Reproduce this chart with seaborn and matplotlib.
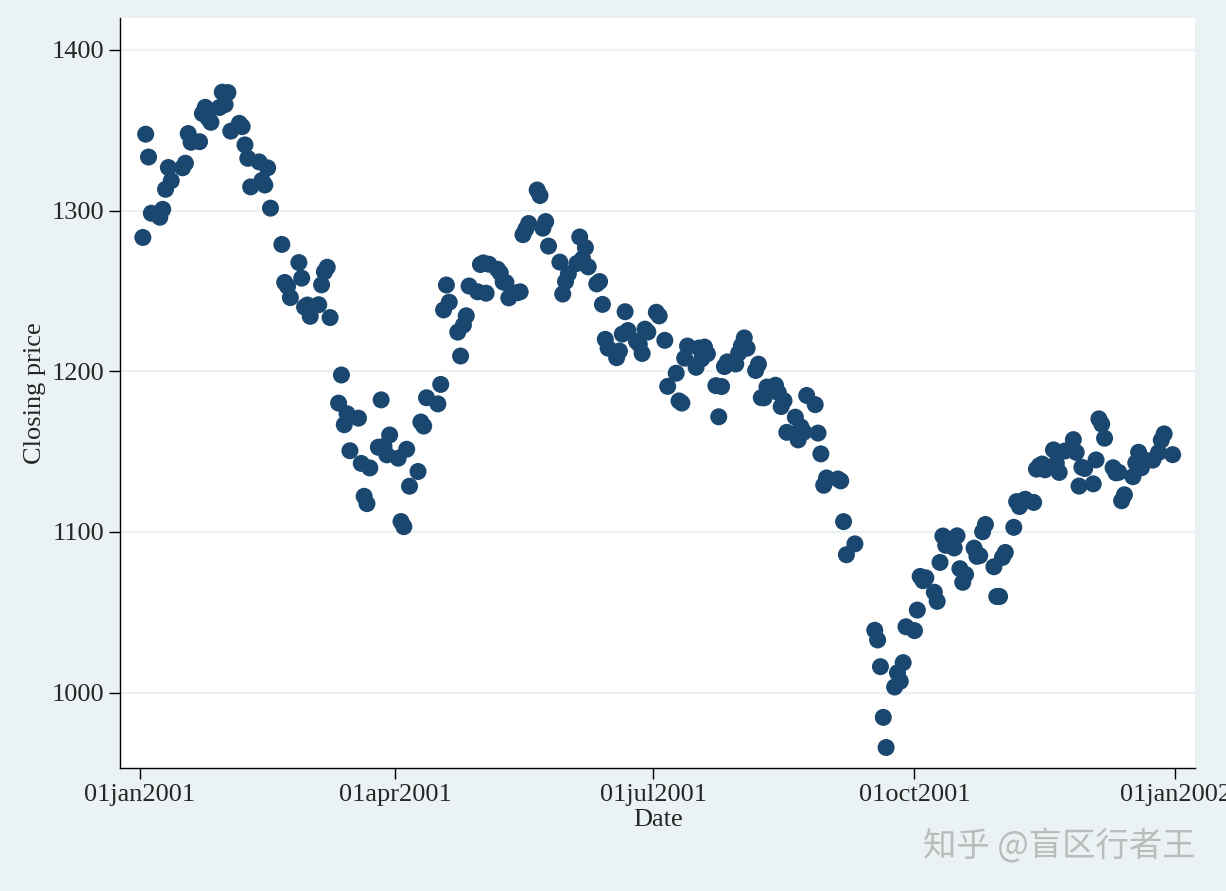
import pandas as pd
import numpy as np
import matplotlib
matplotlib.use("Agg")
import matplotlib.pyplot as plt
import matplotlib.dates as mdates
import seaborn as sns

holidays = ["2001-01-01","2001-01-15","2001-02-19","2001-04-13","2001-05-28","2001-07-04",
            "2001-09-03","2001-09-11","2001-09-12","2001-09-13","2001-09-14","2001-11-22","2001-12-25"]
close = [1283.27,1347.56,1333.34,1298.35,1295.86,1300.80,1313.27,1326.82,1318.55,1326.65,1329.47,1347.97,1342.54,1342.90,1360.40,1364.30,1357.51,1354.95,1364.17,1373.73,1366.01,
1373.47,1349.47,1354.31,1352.26,1340.89,1332.53,1314.76,1330.31,1318.80,1315.92,1326.61,1301.53,1278.94,1255.27,1252.82,1245.86,1267.65,1257.94,1239.94,
1241.23,1234.18,1241.41,1253.80,1261.89,1264.74,1233.42,1180.16,1197.66,1166.71,1173.56,1150.53,1170.81,1142.62,1122.14,1117.58,1139.83,1152.69,1182.17,1153.29,1147.95,1160.33,
1145.87,1106.46,1103.25,1151.44,1128.43,1137.59,1168.38,1165.89,1183.50,1179.68,1191.81,1238.16,1253.69,1242.98,1224.36,1209.47,1228.75,1234.52,1253.05,1249.46,
1266.44,1267.43,1248.58,1266.61,1263.51,1261.20,1255.54,1255.18,1245.67,1248.92,1249.44,1284.99,1288.49,1291.96,1312.83,1309.38,1289.05,1293.17,1277.89,1267.93,1248.08,1255.82,
1260.67,1267.11,1283.57,1270.03,1276.96,1264.96,1254.39,1255.85,1241.60,1219.87,1214.36,1208.43,1212.58,1223.14,1237.04,1225.35,1218.60,1216.76,1211.07,1226.20,1224.38,
1236.72,1234.45,1219.24,1190.59,1198.78,1181.52,1180.18,1208.14,1215.68,1202.45,1214.44,1207.71,1215.02,1210.85,1191.03,1171.65,1190.49,1202.93,1205.82,1204.52,1211.23,
1215.93,1220.75,1214.35,1200.48,1204.40,1183.53,1183.43,1190.16,1191.29,1186.73,1178.02,1181.66,1161.97,1171.41,1157.26,1165.31,1162.09,1184.93,1179.21,1161.51,1148.56,1129.03,1133.58,
1132.94,1131.74,1106.40,1085.78,1092.54,1038.77,1032.74,1016.10,984.54,965.80,1003.45,1012.27,1007.04,1018.61,1040.94,
1038.55,1051.33,1072.28,1069.63,1071.38,1062.44,1056.75,1080.99,1097.43,1091.65,1089.98,1097.54,1077.09,1068.61,1073.48,1089.90,1084.78,1085.20,1100.09,1104.61,1078.30,1059.79,1059.78,
1084.10,1087.20,1102.84,1118.86,1115.80,1118.54,1120.31,1118.33,1139.09,1141.21,1142.24,1138.65,1151.06,1142.66,1137.03,1150.34,1157.42,1149.50,1128.52,1140.20,1139.45,
1129.90,1144.80,1170.35,1167.10,1158.31,1139.93,1136.76,1137.07,1119.38,1123.09,1134.36,1142.92,1149.56,1139.93,1144.89,1144.65,1149.37,1157.13,1161.02,1148.08]
dates = pd.bdate_range("2001-01-02", "2001-12-31", freq="C", holidays=holidays)
df = pd.DataFrame({"Date": dates[:len(close)], "close": close})
tick_dates = pd.to_datetime(["2001-01-01","2001-04-01","2001-07-01","2001-10-01","2002-01-01"])
tick_labels = ["01jan2001","01apr2001","01jul2001","01oct2001","01jan2002"]

sns.set_style("white")
plt.rcParams['font.family'] = ['Liberation Serif', 'DejaVu Serif']
fig = plt.figure(figsize=(12.26, 8.91), dpi=100, facecolor="#eaf2f3")
ax = fig.add_axes([0.098, 0.138, 0.877, 0.842])
ax.set_facecolor("white")
sns.scatterplot(data=df, x="Date", y="close", ax=ax, color="#1a476f", s=150, edgecolor="none", zorder=3)
ax.set_xlim(pd.Timestamp("2001-01-01") - pd.Timedelta(days=7), pd.Timestamp("2001-01-01") + pd.Timedelta(days=372))
ax.set_ylim(953, 1420)
ax.set_xticks(tick_dates)
ax.set_xticklabels(tick_labels)
ax.set_yticks([1000, 1100, 1200, 1300, 1400])
ax.grid(axis="y", color="#eaf2f3", lw=1.5, zorder=0)
for s in ["top", "right"]:
    ax.spines[s].set_visible(False)
for s in ["left", "bottom"]:
    ax.spines[s].set_color("black"); ax.spines[s].set_linewidth(1)
ax.tick_params(axis="both", direction="out", length=8, width=1, color="black", labelsize=19, left=True, bottom=True)
ax.set_xlabel("Date", fontsize=19, labelpad=2)
ax.set_ylabel("Closing price", fontsize=19)
fig.text(0.975, 0.05, "知乎 @盲区行者王", ha="right", va="center", fontsize=24, color="#bbbbbb",
         family=["Noto Sans CJK SC", "DejaVu Sans"])
fig.savefig("out.png", dpi=100, facecolor=fig.get_facecolor())
